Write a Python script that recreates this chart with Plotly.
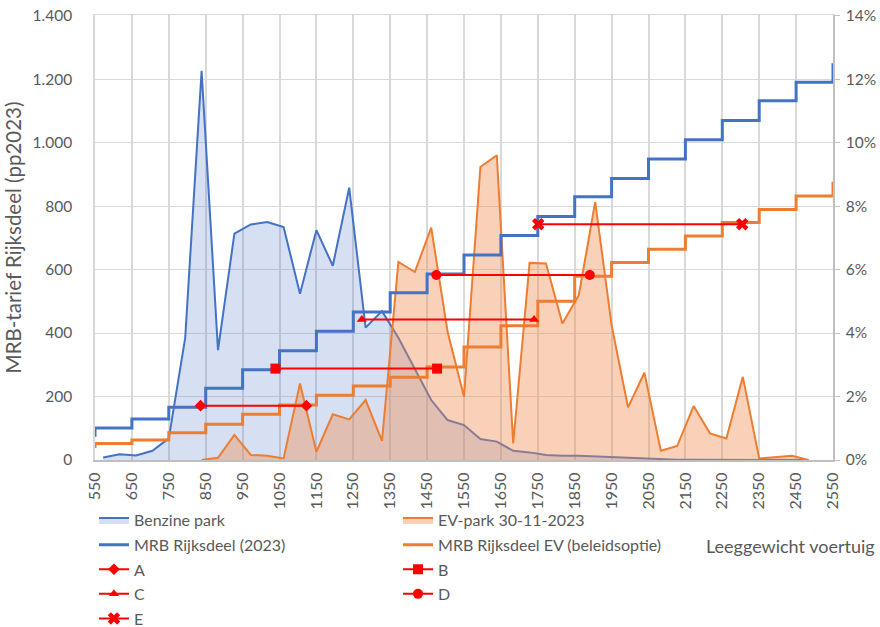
import plotly.graph_objects as go

# ---------------- data ----------------
# weight classes of the park distribution (45 categories spread across 550-2550)
park_classes = list(range(45))
benzine_park = [0.08, 0.18, 0.14, 0.29, 0.68, 3.85, 12.26, 3.46, 7.13, 7.42,
                7.50, 7.34, 5.24, 7.24, 6.12, 8.58, 4.17, 4.69, 3.85, 2.86,
                1.89, 1.26, 1.10, 0.66, 0.58, 0.29, 0.24, 0.16, 0.13, 0.13,
                0.11, 0.08, 0.05, 0.03, 0.02, 0.01, 0.01, 0.01, 0.01, 0.01,
                0.01, 0.01, 0.01, 0.0, None]
ev_park = [None, None, None, None, None, None, 0.0, 0.07, 0.79, 0.16,
           0.13, 0.05, 2.41, 0.26, 1.44, 1.28, 1.89, 0.60, 6.24, 5.92,
           7.32, 4.04, 1.99, 9.23, 9.60, 0.52, 6.21, 6.19, 4.30, 5.19,
           8.13, 4.25, 1.66, 2.75, 0.29, 0.44, 1.70, 0.84, 0.68, 2.62,
           0.05, 0.10, 0.13, 0.0, None]

step_weights = [550, 550, 650, 750, 850, 950, 1050, 1150, 1250, 1350, 1450,
                1550, 1650, 1750, 1850, 1950, 2050, 2150, 2250, 2350, 2450, 2550]
mrb_2023 = [73, 101, 129, 166, 226, 284, 344, 406, 466, 527, 586,
            646, 707, 767, 829, 887, 948, 1009, 1070, 1132, 1190, 1250]
mrb_ev = [38, 52, 63, 86, 113, 144, 173, 204, 233, 261, 293,
          356, 423, 500, 579, 622, 664, 706, 748, 789, 832, 877]

line_names = ["A", "B", "C", "D", "E"]
line_from = [836, 1039, 1273, 1475, 1751]
line_to = [1123, 1477, 1740, 1891, 2304]
line_level = [171, 288, 443, 583, 743]
line_symbols = ["diamond", "square", "triangle-up", "circle", "x"]
line_marker_sizes = [9, 10, 9, 10, 11]

x_ticks = list(range(550, 2551, 100))
x_ticktext = [str(v) for v in x_ticks]
eur_ticks = [0, 200, 400, 600, 800, 1000, 1200, 1400]
eur_ticktext = ["0", "200", "400", "600", "800", "1.000", "1.200", "1.400"]
pct_ticks = [0, 2, 4, 6, 8, 10, 12, 14]
pct_ticktext = ["0%", "2%", "4%", "6%", "8%", "10%", "12%", "14%"]

BLUE = "#4472C4"
ORANGE = "#ED7D31"
RED = "#FF0000"
TXT = "#595959"
GRID = "#D9D9D9"
FONT = "Lato"

fig = go.Figure()

# areas (main subplot: category index x, percent y)
fig.add_trace(go.Scatter(
    x=park_classes, y=benzine_park, name="Benzine park", mode="lines",
    line=dict(color=BLUE, width=2), fill="tozeroy",
    fillcolor="rgba(68,114,196,0.22)", xaxis="x", yaxis="y",
    legend="legend", legendgroup="g1"))
fig.add_trace(go.Scatter(
    x=park_classes, y=ev_park, name="EV-park 30-11-2023", mode="lines",
    line=dict(color=ORANGE, width=2), fill="tozeroy",
    fillcolor="rgba(240,140,80,0.40)", xaxis="x", yaxis="y",
    legend="legend2", legendgroup="g2"))

# step lines (overlay subplot: weight x, euro y)
fig.add_trace(go.Scatter(
    x=step_weights, y=mrb_2023, name="MRB Rijksdeel (2023)", mode="lines",
    line=dict(color=BLUE, width=3, shape="hv"), xaxis="x2", yaxis="y2",
    legend="legend", legendgroup="g3"))
fig.add_trace(go.Scatter(
    x=step_weights, y=mrb_ev, name="MRB Rijksdeel EV (beleidsoptie)", mode="lines",
    line=dict(color=ORANGE, width=3, shape="hv"), xaxis="x2", yaxis="y2",
    legend="legend2", legendgroup="g4"))

for i, nm in enumerate(line_names):
    fig.add_trace(go.Scatter(
        x=[line_from[i], line_to[i]], y=[line_level[i], line_level[i]],
        name=nm, mode="lines+markers",
        line=dict(color=RED, width=2),
        marker=dict(symbol=line_symbols[i], size=line_marker_sizes[i], color=RED),
        xaxis="x2", yaxis="y2",
        legend="legend" if i % 2 == 0 else "legend2",
        legendgroup="h" + nm))

legend_common = dict(
    orientation="v", yanchor="top", xanchor="left",
    font=dict(family=FONT, size=16, color=TXT),
    bgcolor="rgba(0,0,0,0)", tracegroupgap=0.8, itemwidth=30,
)

fig.update_layout(
    width=880, height=627,
    margin=dict(l=95, r=47, t=15, b=167, autoexpand=False),
    paper_bgcolor="white", plot_bgcolor="white",
    font=dict(family=FONT, size=15, color=TXT),
    # category axis of the park distribution: only its line is shown (top edge)
    xaxis=dict(range=[-0.5, 44.5], side="top", showticklabels=False,
               ticks="", showgrid=False, zeroline=False, showline=True,
               linecolor=GRID, linewidth=1),
    yaxis=dict(range=[0, 14.02], side="right", tickvals=pct_ticks,
               ticktext=pct_ticktext, showgrid=True, gridcolor=GRID,
               gridwidth=1, zeroline=False, showline=True,
               linecolor="#BFBFBF", linewidth=1.5, ticks="outside",
               ticklen=5, tickcolor="#BFBFBF", ticklabelstandoff=3,
               ticklabeloverflow="allow",
               tickfont=dict(family=FONT, size=15.5, color=TXT)),
    xaxis2=dict(range=[550, 2550], overlaying="x", anchor="y2",
                side="bottom",
                tickvals=x_ticks, ticktext=x_ticktext, tickangle=-90,
                showgrid=True, gridcolor=GRID, gridwidth=1.5,
                zeroline=False, showline=True, linecolor="#BFBFBF",
                linewidth=2, ticks="", ticklabelstandoff=4,
                ticklabeloverflow="allow",
                tickfont=dict(family=FONT, size=16, color=TXT)),
    yaxis2=dict(range=[0, 1402], overlaying="y", side="left", anchor="x2",
                tickvals=eur_ticks, ticktext=eur_ticktext, showgrid=False,
                zeroline=False, showline=True, linecolor=GRID, linewidth=1.5,
                ticklabelstandoff=18, ticklabeloverflow="allow",
                title=dict(text="MRB-tarief Rijksdeel (pp2023)",
                           font=dict(family=FONT, size=20.5, color=TXT),
                           standoff=5),
                tickfont=dict(family=FONT, size=15.5, color=TXT)),
    legend=dict(x=-0.0014, y=-0.097, **legend_common),
    legend2=dict(x=0.4106, y=-0.097, **legend_common),
    showlegend=True,
    annotations=[dict(text="Leeggewicht voertuig", xref="paper", yref="paper",
                      x=0.825, y=-0.194, xanchor="left", yanchor="middle",
                      showarrow=False,
                      font=dict(family=FONT, size=18, color=TXT))],
)

# let the 880x627 figure fill the window (no default page margin)
fig.write_html("out.html",
               config={"displayModeBar": False},
               post_script="document.body.style.margin='0px';")
